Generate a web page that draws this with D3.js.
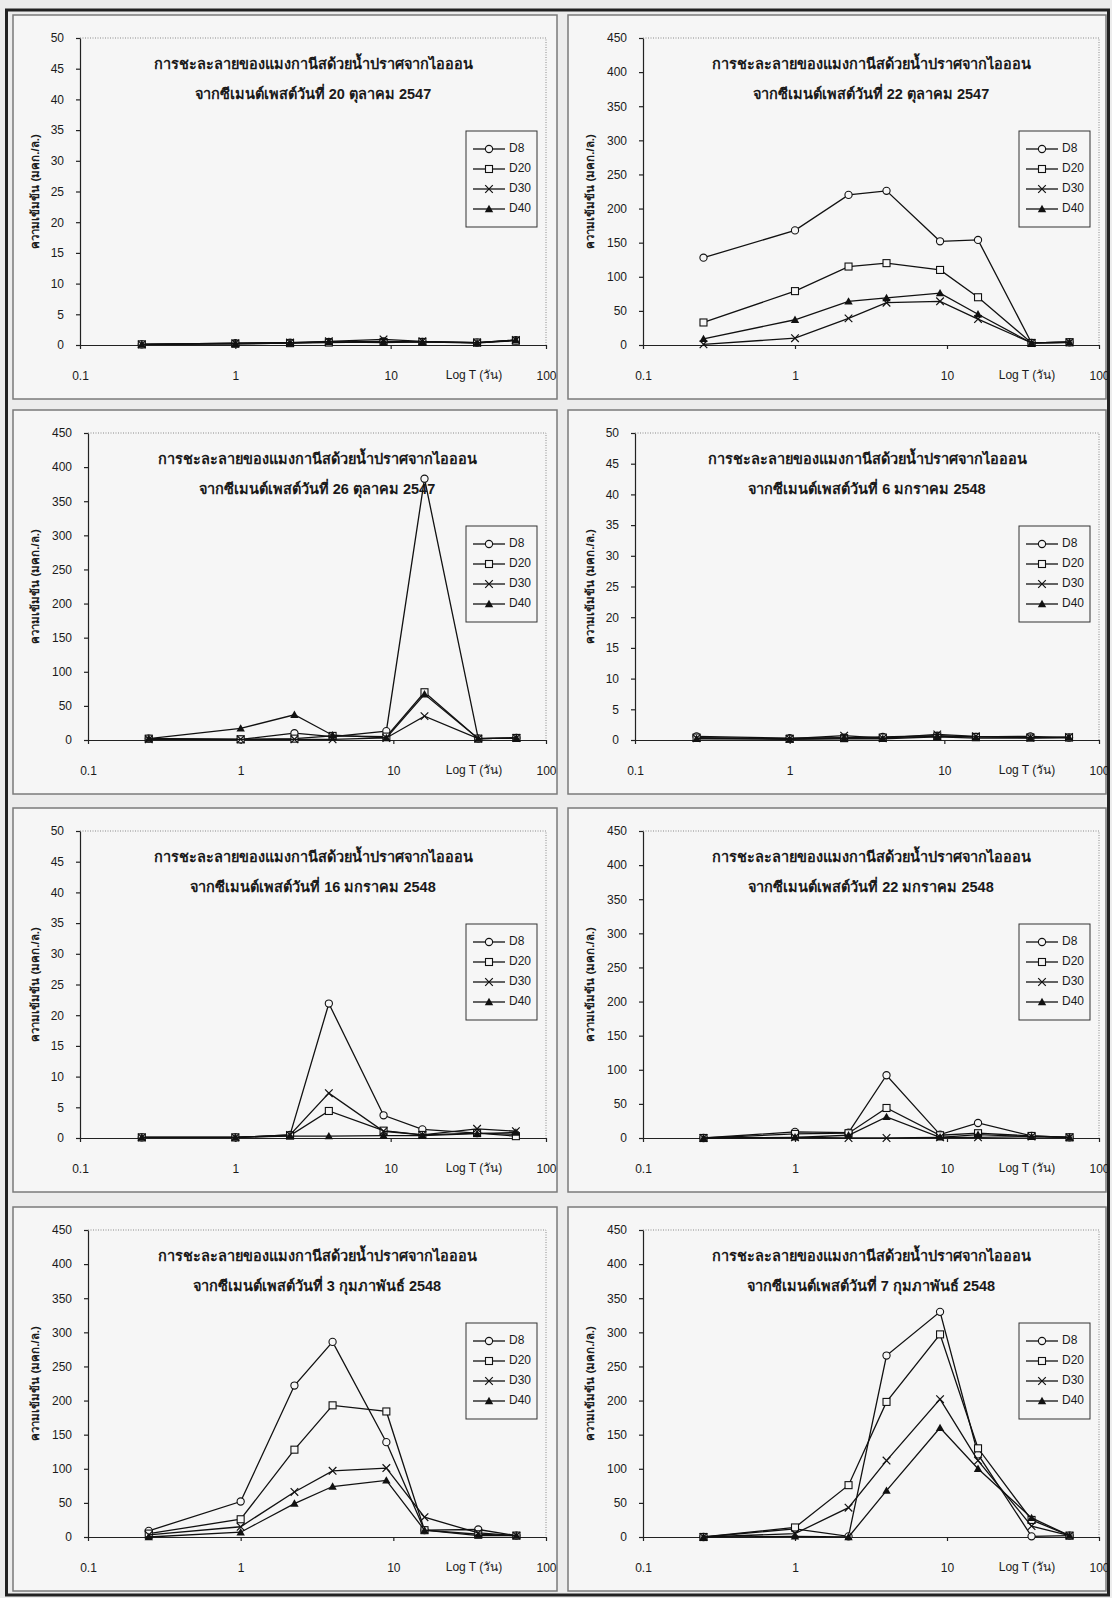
<!DOCTYPE html>
<html>
<head>
<meta charset="utf-8">
<script src="https://cdn.jsdelivr.net/npm/d3@7"></script>
<style>
  body { margin: 0; background: #ededed; }
  text { font-family: "Liberation Sans", Arial, "DejaVu Sans", sans-serif; fill: #1a1a1a; }
</style>
</head>
<body>
<div id="chart"></div>
<script>
// sampling times (days) of the tank leaching test
const times = [0.25, 1, 2.25, 4, 9, 16, 36, 64];
const seriesNames = ["D8", "D20", "D30", "D40"];
const xTicks = [0.1, 1, 10, 100];
const xTickLabels = ["0.1", "1", "10", "100"];

const titleLine1 = "การชะละลายของแมงกานีสด้วยน้ำปราศจากไอออน";
const titlePrefix = "จากซีเมนต์เพสต์วันที่ ";
const panelDates = ["20 ตุลาคม 2547", "22 ตุลาคม 2547", "26 ตุลาคม 2547", "6 มกราคม 2548",
                    "16 มกราคม 2548", "22 มกราคม 2548", "3 กุมภาพันธ์ 2548", "7 กุมภาพันธ์ 2548"];
const yMaxes = [50, 450, 450, 50, 50, 450, 450, 450];
const yTitle = "ความเข้มข้น (มคก./ล.)";
const xTitle = "Log T (วัน)";

// concentrations per panel, rows = D8, D20, D30, D40
const oct20 = [
    [0.1, 0.3, 0.4, 0.5, 0.6, 0.5, 0.4, 0.8],
    [0.1, 0.2, 0.3, 0.4, 0.5, 0.5, 0.4, 0.7],
    [0.1, 0.3, 0.4, 0.6, 0.9, 0.6, 0.4, 0.8],
    [0.1, 0.2, 0.3, 0.5, 0.4, 0.5, 0.3, 0.8]
];
const oct22 = [
    [128, 168, 220, 226, 152, 154, 3, 4],
    [33, 79, 115, 120, 110, 70, 3, 4],
    [1, 10, 39, 62, 64, 38, 3, 4],
    [9, 37, 64, 69, 76, 45, 3, 4]
];
const oct26 = [
    [2, 1, 10, 5, 13, 383, 2, 3],
    [2, 1, 2, 6, 5, 70, 2, 3],
    [1, 1, 1, 1, 3, 35, 2, 3],
    [2, 17, 37, 7, 3, 67, 2, 3]
];
const jan6 = [
    [0.6, 0.3, 0.4, 0.5, 0.7, 0.5, 0.6, 0.4],
    [0.4, 0.2, 0.3, 0.4, 0.6, 0.5, 0.4, 0.4],
    [0.3, 0.2, 0.7, 0.3, 0.9, 0.6, 0.4, 0.5],
    [0.2, 0.1, 0.2, 0.2, 0.5, 0.3, 0.3, 0.4]
];
const jan16 = [
    [0.1, 0.1, 0.5, 21.9, 3.7, 1.4, 0.8, 0.6],
    [0.1, 0.1, 0.4, 4.4, 1.2, 0.5, 0.8, 0.3],
    [0.1, 0.1, 0.5, 7.3, 1.1, 0.5, 1.5, 1.1],
    [0.1, 0.1, 0.3, 0.3, 0.4, 0.4, 0.7, 0.9]
];
const jan22 = [
    [0, 9, 8, 92, 5, 22, 3, 1],
    [0, 6, 7, 44, 4, 7, 3, 1],
    [0, 1, 0, 0, 1, 1, 2, 1],
    [0, 1, 4, 31, 1, 5, 2, 1]
];
const feb3 = [
    [9, 52, 222, 286, 139, 10, 11, 2],
    [5, 26, 128, 193, 184, 10, 4, 2],
    [3, 15, 66, 97, 101, 29, 6, 2],
    [0, 7, 49, 74, 83, 10, 2, 2]
];
const feb7 = [
    [0, 12, 1, 266, 330, 121, 1, 2],
    [0, 14, 76, 198, 297, 130, 25, 2],
    [0, 5, 43, 112, 202, 112, 16, 2],
    [0, 1, 0, 68, 160, 100, 28, 2]
];
const panelData = [oct20, oct22, oct26, jan6, jan16, jan22, feb3, feb7];

const width = 1112, height = 1598;
const svg = d3.select("#chart").append("svg")
    .attr("width", width)
    .attr("height", height);

// page background + thick outer border
svg.append("rect").attr("x", 0).attr("y", 0).attr("width", width).attr("height", height).attr("fill", "#ececec");
svg.append("rect").attr("x", 6.5).attr("y", 10).attr("width", 1102).attr("height", 1585)
    .attr("fill", "none").attr("stroke", "#222").attr("stroke-width", 3);

// panel grid
const colX = [[13, 557], [568, 1106]];
const colPlotRight = [546, 1099];
const rowY = [15, 410, 808, 1207];
const frameH = 384;
const plotBg = "#f6f6f6";

const line = d3.line();

panelData.forEach((data, i) => {
    const col = i % 2, row = Math.floor(i / 2);
    const fx0 = colX[col][0], fx1 = colX[col][1];
    const fy0 = rowY[row];
    const yMax = yMaxes[i];
    const yStep = yMax === 50 ? 5 : 50;

    const g = svg.append("g");
    g.append("rect")
        .attr("x", fx0).attr("y", fy0)
        .attr("width", fx1 - fx0).attr("height", frameH)
        .attr("fill", plotBg).attr("stroke", "#7a7a7a").attr("stroke-width", 1.5);

    const left = fx0 + (yMax === 50 ? 67 : 75);
    const right = colPlotRight[col];
    const top = fy0 + 23;
    const bottom = fy0 + 330;

    const x = d3.scaleLog().domain([0.1, 100]).range([left, right]);
    const y = d3.scaleLinear().domain([0, yMax]).range([bottom, top]);

    // plot area border (dotted top and right)
    g.append("path")
        .attr("d", `M${left},${top}H${right}V${bottom}`)
        .attr("fill", "none").attr("stroke", "#8a8a8a").attr("stroke-width", 1)
        .attr("stroke-dasharray", "1,1.5");

    // y axis
    const yAxis = d3.axisLeft(y)
        .tickValues(d3.range(0, yMax + 0.001, yStep))
        .tickFormat(d3.format("d"))
        .tickSize(4).tickSizeOuter(0).tickPadding(12);
    const ya = g.append("g").attr("transform", `translate(${left},0)`).call(yAxis);
    ya.selectAll("text").style("font-size", "12px");

    // x axis (log), labels sit well below the axis line
    const xAxis = d3.axisBottom(x)
        .tickValues(xTicks)
        .tickFormat((d, k) => xTickLabels[k])
        .tickSize(4).tickSizeOuter(0).tickPadding(22);
    const xa = g.append("g").attr("transform", `translate(0,${bottom})`).call(xAxis);
    xa.selectAll("text").style("font-size", "12px");

    g.selectAll(".domain, .tick line").attr("stroke", "#222").attr("stroke-width", 1.2);

    g.append("text")
        .attr("x", right - 72).attr("y", bottom + 31)
        .attr("text-anchor", "middle").attr("dominant-baseline", "middle")
        .style("font-size", "12px")
        .text(xTitle);

    g.append("text")
        .attr("transform", `translate(${fx0 + 23},${(top + bottom) / 2}) rotate(-90)`)
        .attr("text-anchor", "middle").attr("dominant-baseline", "middle")
        .style("font-size", "11.5px").style("font-weight", "bold")
        .text(yTitle);

    // title
    const cx = (left + right) / 2;
    g.append("text")
        .attr("x", cx).attr("y", top + 27)
        .attr("text-anchor", "middle").attr("dominant-baseline", "middle")
        .style("font-size", "14.5px").style("font-weight", "bold")
        .text(titleLine1);
    g.append("text")
        .attr("x", cx).attr("y", top + 57)
        .attr("text-anchor", "middle").attr("dominant-baseline", "middle")
        .style("font-size", "14.5px").style("font-weight", "bold")
        .text(titlePrefix + panelDates[i]);

    // series
    data.forEach((vals, s) => {
        const pts = vals.map((v, k) => [x(times[k]), y(v)]);
        g.append("path")
            .attr("d", line(pts))
            .attr("fill", "none").attr("stroke", "#111").attr("stroke-width", 1.3);
        pts.forEach(p => drawMarker(g, s, p[0], p[1]));
    });

    // legend
    const lw = 71, lh = 96;
    const lx = right - 9 - lw, ly = top + 93;
    g.append("rect")
        .attr("x", lx).attr("y", ly).attr("width", lw).attr("height", lh)
        .attr("fill", plotBg).attr("stroke", "#333").attr("stroke-width", 1);
    seriesNames.forEach((name, s) => {
        const yy = ly + 18 + s * 20;
        g.append("line")
            .attr("x1", lx + 7).attr("x2", lx + 39).attr("y1", yy).attr("y2", yy)
            .attr("stroke", "#111").attr("stroke-width", 1.3);
        drawMarker(g, s, lx + 23, yy);
        g.append("text")
            .attr("x", lx + 43).attr("y", yy)
            .attr("dominant-baseline", "middle")
            .style("font-size", "12px")
            .text(name);
    });
});

function drawMarker(g, s, px, py) {
    if (s === 0) {
        g.append("circle").attr("cx", px).attr("cy", py).attr("r", 3.6)
            .attr("fill", plotBg).attr("stroke", "#111").attr("stroke-width", 1.1);
    } else if (s === 1) {
        g.append("rect").attr("x", px - 3.5).attr("y", py - 3.5).attr("width", 7).attr("height", 7)
            .attr("fill", plotBg).attr("stroke", "#111").attr("stroke-width", 1.1);
    } else if (s === 2) {
        g.append("path").attr("d", `M${px - 3.8},${py - 3.8}L${px + 3.8},${py + 3.8}M${px - 3.8},${py + 3.8}L${px + 3.8},${py - 3.8}`)
            .attr("stroke", "#111").attr("stroke-width", 1.2);
    } else {
        g.append("path").attr("d", `M${px},${py - 4.2}L${px + 4.2},${py + 3.2}L${px - 4.2},${py + 3.2}Z`)
            .attr("fill", "#111");
    }
}
</script>
</body>
</html>
